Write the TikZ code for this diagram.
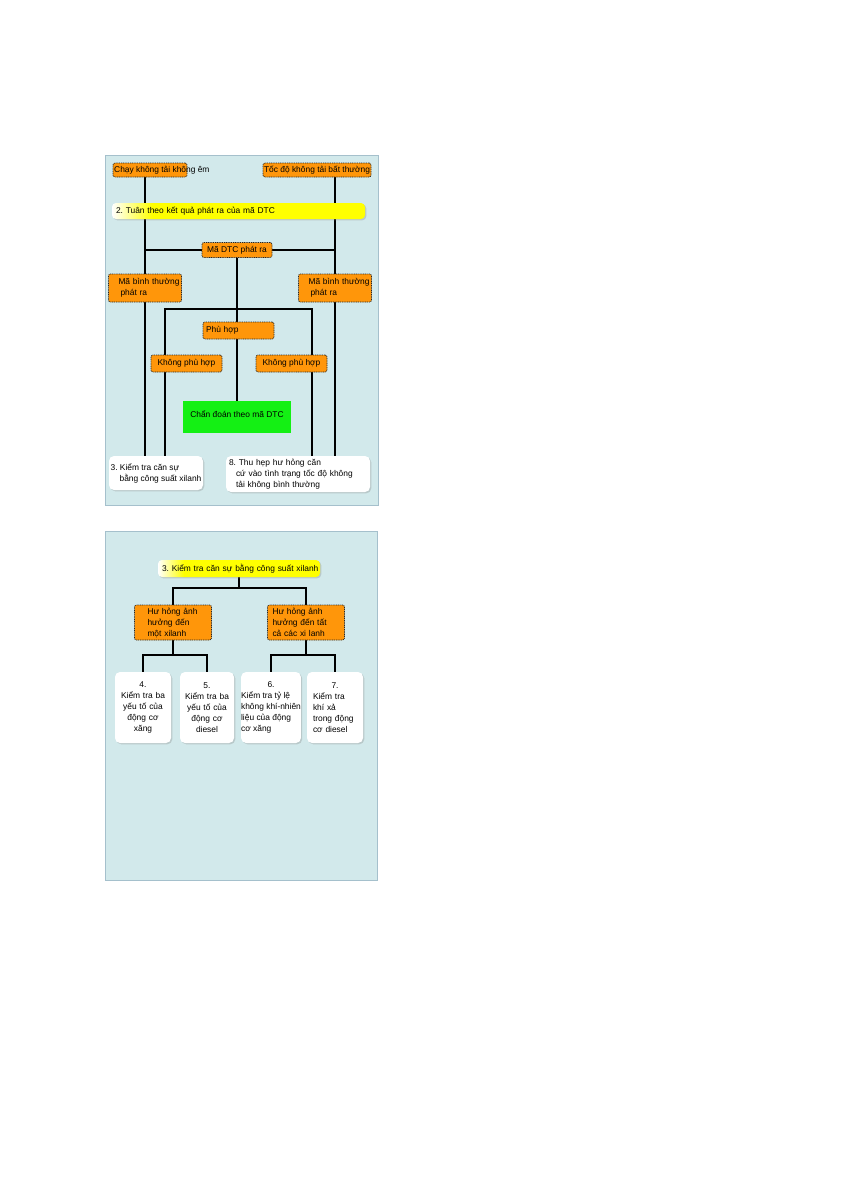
\documentclass[tikz,border=0pt]{standalone}
\usepackage{fontspec}
\setmainfont{Liberation Sans}
\usetikzlibrary{shadows}

\definecolor{panelbg}{RGB}{210,233,235}
\definecolor{panelrule}{RGB}{165,192,204}
\definecolor{boxorange}{RGB}{255,150,10}
\definecolor{boxgreen}{RGB}{20,240,20}

\pgfdeclarehorizontalshading{barshade}{100bp}{color(0bp)=(white); color(25bp)=(white); color(33bp)=(yellow); color(100bp)=(yellow)}

\pgfdeclarelayer{bg}
\pgfsetlayers{bg,main}

\hyphenpenalty=10000
\exhyphenpenalty=10000

\tikzstyle{panel} = [fill=panelbg, draw=panelrule, line width=1pt]
\tikzstyle{orangebox} = [
    rectangle, rounded corners=2pt,
    fill=boxorange, draw=black!85,
    dash pattern=on 1pt off 0.8pt, line width=0.7pt,
    inner sep=1pt
]
\tikzstyle{titlebar} = [
    rectangle, rounded corners=4pt,
    shading=barshade,
    drop shadow={shadow xshift=1.3pt, shadow yshift=-1.3pt, opacity=0.3},
    inner xsep=4pt, inner ysep=0pt, align=left
]
\tikzstyle{whitebox} = [
    rectangle, rounded corners=5pt, fill=white,
    drop shadow={shadow xshift=1.3pt, shadow yshift=-1.3pt, opacity=0.3},
    inner ysep=1pt
]
\tikzstyle{greenbox} = [rectangle, fill=boxgreen, inner sep=1pt]
\tikzstyle{link} = [line width=1.8pt, black]

\begin{document}
\begin{tikzpicture}[x=1pt, y=-1pt, font=\fontsize{8.4}{11}\selectfont\frenchspacing]
    \useasboundingbox (0,0) rectangle (841,1191);

    % panels
    \begin{pgfonlayer}{bg}
        \draw [panel] (105,155) rectangle (378,505);
        \draw [panel] (105,531) rectangle (377,880);
    \end{pgfonlayer}

    % upper panel
    \node (chay) [orangebox, minimum width=74pt, minimum height=14pt] at (150,170) {};
    \node (chaytext) [anchor=west, inner sep=0pt] at (114,170) {Chạy không tải không êm};
    \node (tocdo) [orangebox, minimum width=108pt, minimum height=14pt] at (317,170) {Tốc độ không tải bất thường};
    \node (bar1) [titlebar, text width=245pt, minimum height=16pt] at (238.5,211) {2. Tuân theo kết quả phát ra của mã DTC};
    \node (dtc) [orangebox, minimum width=70pt, minimum height=15pt] at (237,250) {Mã DTC phát ra};
    \node (mbtL) [orangebox, text width=71pt, align=left, minimum height=28pt] at (145,288) {\hspace*{9pt}Mã bình thường\\\hspace*{11pt}phát ra};
    \node (mbtR) [orangebox, text width=71pt, align=left, minimum height=28pt] at (335,288) {\hspace*{9pt}Mã bình thường\\\hspace*{11pt}phát ra};
    \node (phuhop) [orangebox, text width=65pt, align=left, inner xsep=3pt, minimum height=17pt] at (238.5,330.5) {Phù hợp};
    \node (kphL) [orangebox, minimum width=71pt, minimum height=17pt] at (186.5,363.5) {Không phù hợp};
    \node (kphR) [orangebox, minimum width=71pt, minimum height=17pt] at (291.5,363.5) {Không phù hợp};
    \node (diag) [greenbox, minimum width=108pt, minimum height=32pt, text depth=6pt] at (237,417) {Chẩn đoán theo mã DTC};
    \node (kt3) [whitebox, align=left, inner xsep=1pt, minimum width=94pt, minimum height=34pt] at (156,473) {3. Kiểm tra căn sự\\\hspace*{9pt}bằng công suất xilanh};
    \node (kt8) [whitebox, text width=138pt, align=left, inner xsep=3pt, minimum height=36pt] at (298,474) {8. Thu hẹp hư hỏng căn\\\hspace*{7pt}cứ vào tình trạng tốc độ không\\\hspace*{7pt}tải không bình thường};

    \coordinate (splitL) at (165,309);
    \coordinate (splitR) at (312,309);

    \begin{pgfonlayer}{bg}
        \draw [link] (mbtL |- chay.south) -- (mbtL |- kt3.north);
        \draw [link] (mbtR |- tocdo.south) -- (mbtR |- kt8.north);
        \draw [link] (mbtL |- dtc) -- (mbtR |- dtc);
        \draw [link] (dtc.south) -- (diag.north);
        \draw [link] (splitL |- kt3.north) -- (splitL) -- (splitR) -- (splitR |- kt8.north);
    \end{pgfonlayer}

    % lower panel
    \node (bar2) [titlebar, text width=160pt, inner xsep=1pt, minimum height=17pt] at (239,568.5) {\hspace*{3pt}3. Kiểm tra căn sự bằng công suất xilanh};
    \node (hhL) [orangebox, text width=75pt, align=left, minimum height=35pt] at (173,622.5) {\hspace*{12pt}Hư hỏng ảnh\\\hspace*{12pt}hưởng đến\\\hspace*{12pt}một xilanh};
    \node (hhR) [orangebox, text width=75pt, align=left, minimum height=35pt] at (306,622.5) {\hspace*{4pt}Hư hỏng ảnh\\\hspace*{4pt}hưởng đến tất\\\hspace*{4pt}cả các xi lanh};
    \node (b4) [whitebox, text width=54pt, align=center, inner xsep=1pt, minimum height=71pt] at (143,707.5) {4.\\Kiểm tra ba\\yếu tố của\\động cơ\\xăng};
    \node (b5) [whitebox, text width=52pt, align=center, inner xsep=1pt, minimum height=71pt] at (207,707.5) {5.\\Kiểm tra ba\\yếu tố của\\động cơ\\diesel};
    \node (b6) [whitebox, minimum width=55pt, inner xsep=0pt, minimum height=71pt] at (271,707.5) {\begin{tabular}{@{}l@{}}\multicolumn{1}{@{}c@{}}{6.}\\Kiểm tra tỷ lệ\\không khí-nhiên\\liệu của động\\cơ xăng\end{tabular}};
    \node (b7) [whitebox, text width=44pt, align=left, inner xsep=6pt, minimum height=71pt] at (335,707.5) {\hfill7.\hfill\null\\Kiểm tra\\khí xả\\trong động\\cơ diesel};

    \begin{pgfonlayer}{bg}
        \draw [link] (bar2.south) -- ++(0,11) coordinate (fork);
        \draw [link] (hhL.north) |- (fork) -| (hhR.north);
        \draw [link] (hhL.south) -- ++(0,15) coordinate (forkL);
        \draw [link] (b4.north) |- (forkL) -| (b5.north);
        \draw [link] (hhR.south) -- ++(0,15) coordinate (forkR);
        \draw [link] (b6.north) |- (forkR) -| (b7.north);
    \end{pgfonlayer}
\end{tikzpicture}
\end{document}
